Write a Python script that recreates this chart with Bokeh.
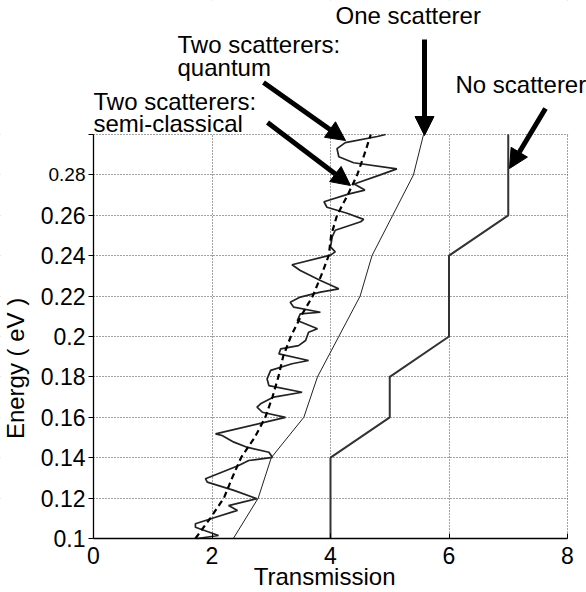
import math
from bokeh.plotting import figure
from bokeh.models import Range1d, FixedTicker, Label, Arrow, NormalHead, BoxAnnotation
from bokeh.embed import file_html
from bokeh.resources import INLINE

# ---- data ----
energy_none = [0.10, 0.14, 0.16, 0.18, 0.20, 0.24, 0.26, 0.30]
trans_none = [4, 4, 5, 5, 6, 6, 7, 7]

energy_one = [0.10, 0.12, 0.14, 0.16, 0.18, 0.20, 0.22, 0.24, 0.26, 0.28, 0.30]
trans_one = [2.36, 2.78, 3.00, 3.55, 3.78, 4.14, 4.50, 4.70, 5.05, 5.40, 5.57]

energy_semi = [0.10, 0.11, 0.12, 0.13, 0.14, 0.15, 0.16, 0.17, 0.18, 0.19, 0.20,
               0.21, 0.22, 0.23, 0.24, 0.25, 0.26, 0.27, 0.28, 0.29, 0.30]
trans_semi = [1.72, 1.97, 2.20, 2.34, 2.49, 2.72, 2.90, 3.02, 3.12, 3.20, 3.33,
              3.50, 3.70, 3.84, 3.97, 4.01, 4.11, 4.29, 4.45, 4.57, 4.68]

energy_quant = [0.1000, 0.1015, 0.1056, 0.1073, 0.1105, 0.1139, 0.1163, 0.1197, 0.1238, 0.1279,
                0.1296, 0.1361, 0.1386, 0.1402, 0.1427, 0.1452, 0.1477, 0.1510, 0.1518, 0.1576,
                0.1600, 0.1625, 0.1650, 0.1667, 0.1700, 0.1724, 0.1757, 0.1790, 0.1832, 0.1865,
                0.1881, 0.1914, 0.1939, 0.1955, 0.1980, 0.2021, 0.2038, 0.2079, 0.2112, 0.2120,
                0.2145, 0.2170, 0.2195, 0.2220, 0.2236, 0.2277, 0.2327, 0.2355, 0.2403, 0.2419,
                0.2444, 0.2494, 0.2526, 0.2568, 0.2580, 0.2610, 0.2640, 0.2667, 0.2705, 0.2725,
                0.2755, 0.2800, 0.2830, 0.2860, 0.2890, 0.2930, 0.2960, 0.2990, 0.3000]
trans_quant = [1.75, 2.11, 1.72, 1.72, 2.06, 2.43, 2.28, 2.76, 2.37, 1.92,
               1.89, 2.45, 2.62, 3.02, 2.96, 2.59, 2.37, 2.17, 2.06, 2.90,
               3.24, 2.85, 2.76, 2.82, 3.04, 3.52, 2.96, 2.93, 2.99, 3.35,
               3.63, 3.13, 3.16, 3.46, 3.58, 3.63, 3.78, 3.44, 3.49, 3.83,
               3.38, 3.32, 3.49, 3.83, 4.14, 3.83, 3.49, 3.35, 4.00, 4.08,
               4.00, 4.03, 4.08, 4.51, 4.56, 4.28, 3.94, 3.89, 4.30, 4.58,
               4.40, 4.84, 5.12, 4.39, 4.14, 4.11, 4.25, 4.79, 4.93]

x_ticks = [0, 2, 4, 6, 8]
y_ticks = [0.1, 0.12, 0.14, 0.16, 0.18, 0.2, 0.22, 0.24, 0.26, 0.28, 0.3]
y_tick_labels = ["0.1", "0.12", "0.14", "0.16", "0.18", "0.2", "0.22", "0.24", "0.26", "", ""]

X0, X1 = 0, 8          # plotted transmission range
Y0, Y1 = 0.1, 0.3      # plotted energy range

# ---- layout (pixels) ----
W, H = 586, 592
LEFT, RIGHT_PX = 93, 567     # x=0 and x=8 positions on the canvas
TOP, BOTTOM = 134, 538       # y=0.3 and y=0.1 positions on the canvas
kx = (RIGHT_PX - LEFT) / (X1 - X0)
ky = (BOTTOM - TOP) / (Y1 - Y0)
x_range = Range1d(X0 - LEFT / kx, X1 + (W - RIGHT_PX) / kx)
y_range = Range1d(Y0 - (H - BOTTOM) / ky, Y1 + TOP / ky)

FONT = "Liberation Sans"
FS = 24
BASE_SHIFT = 0.35 * FS   # labels are anchored on the middle of the text line

def base_above(px):
    """energy value for a text baseline px pixels above the top of the plotting area"""
    return Y1 + (px + BASE_SHIFT) / ky

def xpx(px):
    return X0 + (px - LEFT) / kx

p = figure(width=W, height=H, output_backend="svg", toolbar_location=None,
           x_range=x_range, y_range=y_range,
           min_border_left=0, min_border_right=0, min_border_top=0, min_border_bottom=0)
p.outline_line_color = None
p.background_fill_color = "white"
p.border_fill_color = "white"

# grid (dotted)
p.xgrid.ticker = FixedTicker(ticks=x_ticks[1:])
p.ygrid.ticker = FixedTicker(ticks=y_ticks[1:])
for g in (p.xgrid[0], p.ygrid[0]):
    g.grid_line_color = "#444444"
    g.grid_line_width = 1
    g.grid_line_dash = "1 2"

# white masks so that the grid stays inside the plotting box
eps = 0.6
far_x, far_y = 20.0, 1.0
for l, r, b, t in ((X0 - far_x, X1 + far_x, Y1 + eps / ky, Y1 + far_y),
                   (X0 - far_x, X1 + far_x, Y0 - far_y, Y0 - eps / ky),
                   (X0 - far_x, X0 - eps / kx, Y0 - far_y, Y1 + far_y),
                   (X1 + eps / kx, X1 + far_x, Y0 - far_y, Y1 + far_y)):
    p.add_layout(BoxAnnotation(left=l, right=r, bottom=b, top=t, fill_color="white",
                               fill_alpha=1.0, line_alpha=0.0, level="underlay"))

# axes drawn at the edges of the plotting box
p.xaxis.fixed_location = Y0
p.yaxis.fixed_location = X0
p.xaxis.bounds = (X0, X1)
p.yaxis.bounds = (Y0, Y1)
p.xaxis.ticker = FixedTicker(ticks=x_ticks)
p.yaxis.ticker = FixedTicker(ticks=y_ticks)
p.yaxis.major_label_overrides = dict(zip(y_ticks, y_tick_labels))
for ax in (p.xaxis[0], p.yaxis[0]):
    ax.axis_line_color = "black"
    ax.axis_line_width = 1.3
    ax.major_tick_line_color = "black"
    ax.minor_tick_line_color = None
    ax.major_label_text_font = FONT
    ax.major_label_text_font_size = "23px"
    ax.major_label_text_color = "black"
p.yaxis.major_tick_out = 5
p.yaxis.major_tick_in = 0
p.yaxis.major_label_standoff = 3
p.xaxis.major_tick_out = 0
p.xaxis.major_tick_in = 5
p.xaxis.major_label_standoff = 8

# curves
p.line(trans_none, energy_none, line_color="#333333", line_width=2)
p.line(trans_one, energy_one, line_color="#222222", line_width=1)
p.line(trans_quant, energy_quant, line_color="#222222", line_width=1.7)
p.line(trans_semi, energy_semi, line_color="black", line_width=2.2, line_dash="6 4")

# the (smaller) 0.28 tick label
p.add_layout(Label(x=X0, y=0.28, x_offset=-8, text="0.28", text_align="right",
                   text_baseline="middle", text_font=FONT, text_font_size="19px",
                   text_color="black"))

# axis titles
p.add_layout(Label(x=xpx(15), y=0.1842, text="Energy ( eV )", angle=math.pi / 2,
                   text_align="center", text_baseline="middle",
                   text_font=FONT, text_font_size=f"{FS}px", text_color="black"))
p.add_layout(Label(x=3.9, y=Y0 - (46 - BASE_SHIFT) / ky, text="Transmission", text_align="center",
                   text_baseline="alphabetic", text_font=FONT, text_font_size=f"{FS}px",
                   text_color="black"))

# callouts
notes = [
    ("Two scatterers:", xpx(177), base_above(82)),
    ("quantum", xpx(177), base_above(59)),
    ("Two scatterers:", xpx(93), base_above(25)),
    ("semi-classical", xpx(93), base_above(3)),
    ("One scatterer", xpx(335), base_above(111)),
    ("No scatterer", xpx(455), base_above(42)),
]
for txt, x, y in notes:
    p.add_layout(Label(x=x, y=y, text=txt, text_align="left", text_baseline="alphabetic",
                       text_font=FONT, text_font_size=f"{FS}px", text_color="black"))

arrows = [
    (xpx(263), Y1 + 52 / ky, xpx(345), Y1 - 6 / ky),
    (xpx(267), Y1 + 12 / ky, xpx(350), Y1 - 51 / ky),
    (xpx(424), Y1 + 95 / ky, xpx(424), Y1 - 1 / ky),
    (xpx(545), Y1 + 26 / ky, xpx(509), Y1 - 34 / ky),
]
for xs, ys, xe, ye in arrows:
    p.add_layout(Arrow(end=NormalHead(size=19, fill_color="black", line_color="black"),
                       x_start=xs, y_start=ys, x_end=xe, y_end=ye,
                       line_width=5, line_color="black"))

open("out.html", "w").write(file_html(p, INLINE))
